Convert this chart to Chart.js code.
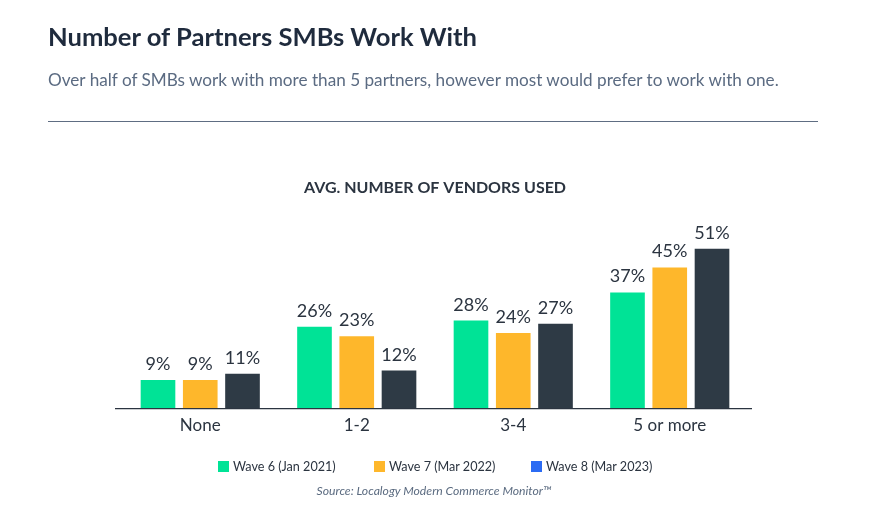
<!DOCTYPE html>
<html>
<head>
<meta charset="utf-8">
<script src="https://cdn.jsdelivr.net/npm/chart.js@4"></script>
<style>
  html, body { margin: 0; padding: 0; background: #ffffff; }
  body { width: 892px; height: 531px; position: relative; overflow: hidden; font-family: Lato, "Noto Sans", sans-serif; }
  #title { position: absolute; left: 48px; top: 24px; margin: 0; font-size: 25.5px; font-weight: 700; color: #1f2b3d; line-height: 1; white-space: nowrap; }
  #subtitle { position: absolute; left: 48px; top: 71px; margin: 0; font-size: 17.2px; font-weight: 400; color: #5b6b82; line-height: 1; white-space: nowrap; }
  #rule { position: absolute; left: 48px; top: 121px; width: 770px; height: 1px; background: #5e6d82; }
  #chartWrap { position: absolute; left: 0; top: 0; width: 892px; height: 531px; }
  #legend { position: absolute; left: 0; top: 458px; width: 892px; height: 16px; }
  .li { position: absolute; top: 0; height: 16px; display: flex; align-items: center; font-size: 12.6px; color: #2b3440; white-space: nowrap; }
  .sw { width: 11px; height: 11px; margin-right: 4px; display: inline-block; }
  #source { position: absolute; left: 0; width: 868px; top: 484px; text-align: center; font-size: 12.2px; font-style: italic; color: #5b6b80; line-height: 14px; }
</style>
</head>
<body>
<div id="chartWrap"><canvas id="c" width="892" height="531"></canvas></div>
<h1 id="title">Number of Partners SMBs Work With</h1>
<p id="subtitle">Over half of SMBs work with more than 5 partners, however most would prefer to work with one.</p>
<div id="rule"></div>
<div id="legend"></div>
<div id="source">Source: Localogy Modern Commerce Monitor™</div>
<script>
// ---- data ----
const categories = ['None', '1-2', '3-4', '5 or more'];
const wave6 = [9, 26, 28, 37];
const wave7 = [9, 23, 24, 45];
const wave8 = [11, 12, 27, 51];
const seriesNames = ['Wave 6 (Jan 2021)', 'Wave 7 (Mar 2022)', 'Wave 8 (Mar 2023)'];
const chartTitle = 'AVG. NUMBER OF VENDORS USED';

// ---- styles ----
const barColors = ['#00E396', '#FEB72B', '#2E3A45'];
const legendColors = ['#00E396', '#FEB72B', '#2B6BF3'];
const textColor = '#2b3440';
const fontFamily = 'Lato, "Noto Sans", sans-serif';

// fit header widths
function fitWidth(id, target) {
  const el = document.getElementById(id);
  const fs = parseFloat(getComputedStyle(el).fontSize);
  const w = el.getBoundingClientRect().width;
  el.style.fontSize = (fs * target / w) + 'px';
}

const seriesData = [wave6, wave7, wave8];

const valueLabels = {
  id: 'valueLabels',
  afterDatasetsDraw(chart) {
    const ctx = chart.ctx;
    ctx.save();
    ctx.font = '18px ' + fontFamily;
    ctx.fillStyle = textColor;
    ctx.textAlign = 'center';
    ctx.textBaseline = 'alphabetic';
    chart.data.datasets.forEach((ds, i) => {
      const meta = chart.getDatasetMeta(i);
      meta.data.forEach((bar, j) => {
        ctx.fillText(ds.data[j] + '%', bar.x, bar.y - 10);
      });
    });
    ctx.restore();
  }
};

const baseline = {
  id: 'baseline',
  afterDatasetsDraw(chart) {
    const a = chart.chartArea;
    const ctx = chart.ctx;
    ctx.save();
    ctx.strokeStyle = '#2b3440';
    ctx.lineWidth = 1.3;
    ctx.beginPath();
    ctx.moveTo(a.left - 7, a.bottom + 0.5);
    ctx.lineTo(a.right + 4, a.bottom + 0.5);
    ctx.stroke();
    ctx.restore();
  }
};

new Chart(document.getElementById('c'), {
  type: 'bar',
  data: {
    labels: categories,
    datasets: seriesData.map((d, i) => ({
      label: seriesNames[i],
      data: d,
      backgroundColor: barColors[i],
      borderWidth: 0,
      categoryPercentage: 0.81,
      barPercentage: 0.82
    }))
  },
  options: {
    responsive: false,
    animation: false,
    devicePixelRatio: 1,
    layout: { padding: { left: 122, right: 144, top: 178.4, bottom: 88.5 } },
    plugins: {
      legend: { display: false },
      tooltip: { enabled: false },
      title: {
        display: true,
        text: chartTitle,
        color: textColor,
        font: { family: fontFamily, size: 16, weight: 'bold' },
        padding: { top: 0, bottom: 22.9 }
      }
    },
    scales: {
      x: {
        grid: { display: false, drawTicks: false },
        border: { display: false },
        ticks: { color: textColor, font: { family: fontFamily, size: 17 }, padding: 7 }
      },
      y: { display: false, min: 0, max: 60 }
    }
  },
  plugins: [valueLabels, baseline]
});

// legend in HTML from the series arrays
const legendX = [218, 374, 531];
const legend = document.getElementById('legend');
seriesNames.forEach((n, i) => {
  const item = document.createElement('div');
  item.className = 'li';
  item.style.left = legendX[i] + 'px';
  const sw = document.createElement('span');
  sw.className = 'sw';
  sw.style.background = legendColors[i];
  item.appendChild(sw);
  item.appendChild(document.createTextNode(n));
  legend.appendChild(item);
});

fitWidth('title', 429);
fitWidth('subtitle', 731);
</script>
</body>
</html>
